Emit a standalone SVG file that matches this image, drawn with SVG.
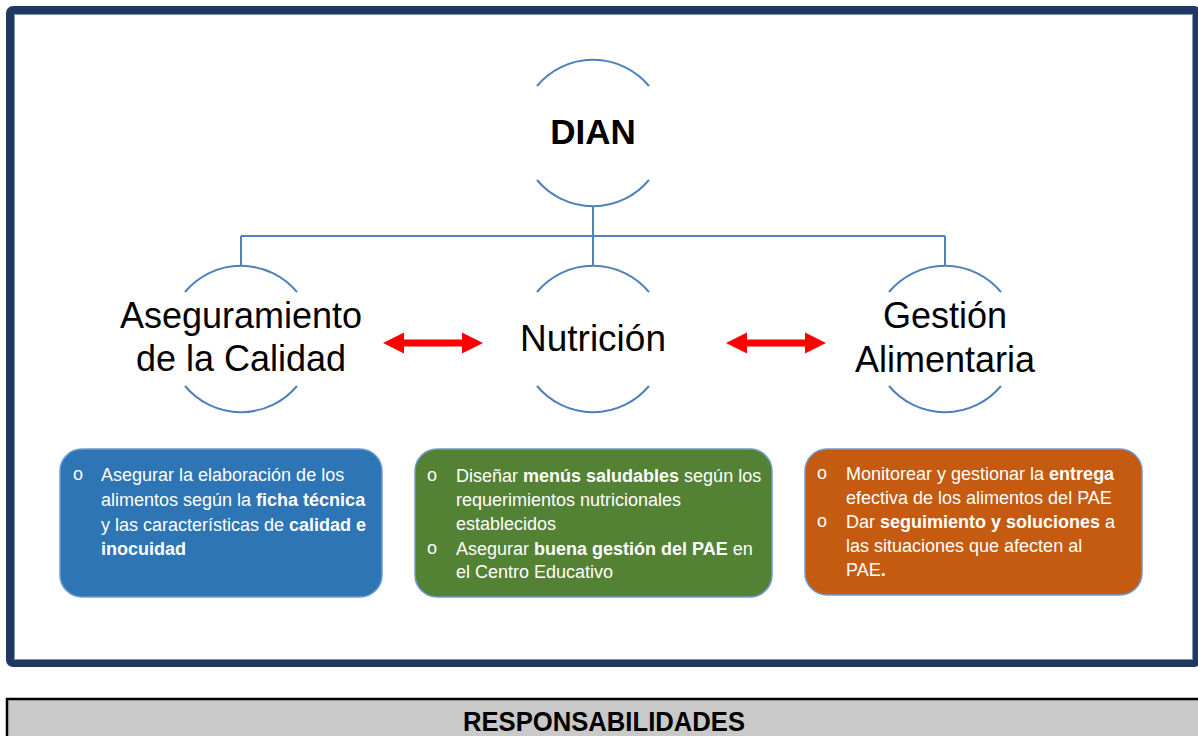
<svg xmlns="http://www.w3.org/2000/svg" width="1198" height="736" viewBox="0 0 1198 736">
<style>
.lbl{font-family:"Liberation Sans",Arial,sans-serif;fill:#000}
.arc{fill:none;stroke:#4f81bd;stroke-width:2}
.conn{fill:none;stroke:#4f81bd;stroke-width:2}
.box{stroke:#6d9bd1;stroke-width:1.5}
.bt{font-family:"Liberation Sans",Arial,sans-serif;font-size:18px;fill:#fff}
.bul{font-family:"Liberation Sans",Arial,sans-serif;font-size:18px;fill:#fff;text-anchor:middle}
.b{font-weight:bold}
</style>
<defs>
<path id="dbl" d="M0 0 L21 -10.5 L21 -3.5 L79 -3.5 L79 -10.5 L100 0 L79 10.5 L79 3.5 L21 3.5 L21 10.5 Z" fill="#ff0000"/>
</defs>
<rect width="1198" height="736" fill="#fff"/>
<g id="frame">
<rect x="10" y="10" width="1187" height="653" rx="3" fill="#fff" stroke="#203864" stroke-width="8"/>
<rect x="14.5" y="14.5" width="1178" height="645" fill="none" stroke="#8497b0" stroke-width="1"/>
</g>
<g id="connectors">
<path class="conn" d="M593 206 V236 M241 236 H945 M241 236 V266 M593 236 V266 M945 236 V266"/>
<use href="#dbl" x="383" y="343"/>
<use href="#dbl" x="726" y="343"/>
</g>
<g id="node-dian">
<path class="arc" d="M537 86 A73 73 0 0 1 649 86 M537 180 A73 73 0 0 0 649 180"/>
<text class="lbl" x="593" y="144" font-size="35" font-weight="bold" text-anchor="middle">DIAN</text>
</g>
<g id="node-calidad">
<path class="arc" d="M185 292 A73 73 0 0 1 297 292 M185 386 A73 73 0 0 0 297 386"/>
<text class="lbl" x="241" y="328" font-size="36" text-anchor="middle">Aseguramiento</text>
<text class="lbl" x="241" y="371" font-size="36" text-anchor="middle">de la Calidad</text>
</g>
<g id="node-nutricion">
<path class="arc" d="M537 292 A73 73 0 0 1 649 292 M537 386 A73 73 0 0 0 649 386"/>
<text class="lbl" x="593" y="351" font-size="37" text-anchor="middle">Nutrición</text>
</g>
<g id="node-gestion">
<path class="arc" d="M889 292 A73 73 0 0 1 1001 292 M889 386 A73 73 0 0 0 1001 386"/>
<text class="lbl" x="945" y="328" font-size="36" text-anchor="middle">Gestión</text>
<text class="lbl" x="945" y="372" font-size="36" text-anchor="middle">Alimentaria</text>
</g>
<g id="box-calidad">
<rect class="box" x="60" y="449" width="322" height="148" rx="22" fill="#2e75b6"/>
<text class="bul" x="78" y="480">o</text>
<text class="bt" x="101" y="481">Asegurar la elaboración de los</text>
<text class="bt" x="101" y="506">alimentos según la <tspan class="b">ficha técnica</tspan></text>
<text class="bt" x="101" y="531">y las características de <tspan class="b">calidad e</tspan></text>
<text class="bt" x="101" y="555"><tspan class="b">inocuidad</tspan></text>
</g>
<g id="box-nutricion">
<rect class="box" x="415" y="449" width="357" height="148" rx="22" fill="#548235"/>
<text class="bul" x="432" y="481">o</text>
<text class="bt" x="456" y="482">Diseñar <tspan class="b">menús saludables</tspan> según los</text>
<text class="bt" x="456" y="506">requerimientos nutricionales</text>
<text class="bt" x="456" y="530">establecidos</text>
<text class="bul" x="432" y="554">o</text>
<text class="bt" x="456" y="555">Asegurar <tspan class="b">buena gestión del PAE</tspan> en</text>
<text class="bt" x="456" y="578">el Centro Educativo</text>
</g>
<g id="box-gestion">
<rect class="box" x="805" y="449" width="337" height="146" rx="22" fill="#c55a11"/>
<text class="bul" x="822" y="479">o</text>
<text class="bt" x="846" y="480">Monitorear y gestionar la <tspan class="b">entrega</tspan></text>
<text class="bt" x="846" y="504">efectiva de los alimentos del PAE</text>
<text class="bul" x="822" y="527">o</text>
<text class="bt" x="846" y="528">Dar <tspan class="b">seguimiento y soluciones</tspan> a</text>
<text class="bt" x="846" y="552">las situaciones que afecten al</text>
<text class="bt" x="846" y="576">PAE<tspan class="b">.</tspan></text>
</g>
<g id="header-responsabilidades">
<rect x="7" y="699" width="1200" height="45" fill="#c9c9c9" stroke="#000" stroke-width="2.5"/>
<text x="604" y="731" font-family="Liberation Sans,Arial,sans-serif" font-size="27" font-weight="bold" text-anchor="middle" textLength="282" lengthAdjust="spacingAndGlyphs" fill="#000">RESPONSABILIDADES</text>
</g>
</svg>
